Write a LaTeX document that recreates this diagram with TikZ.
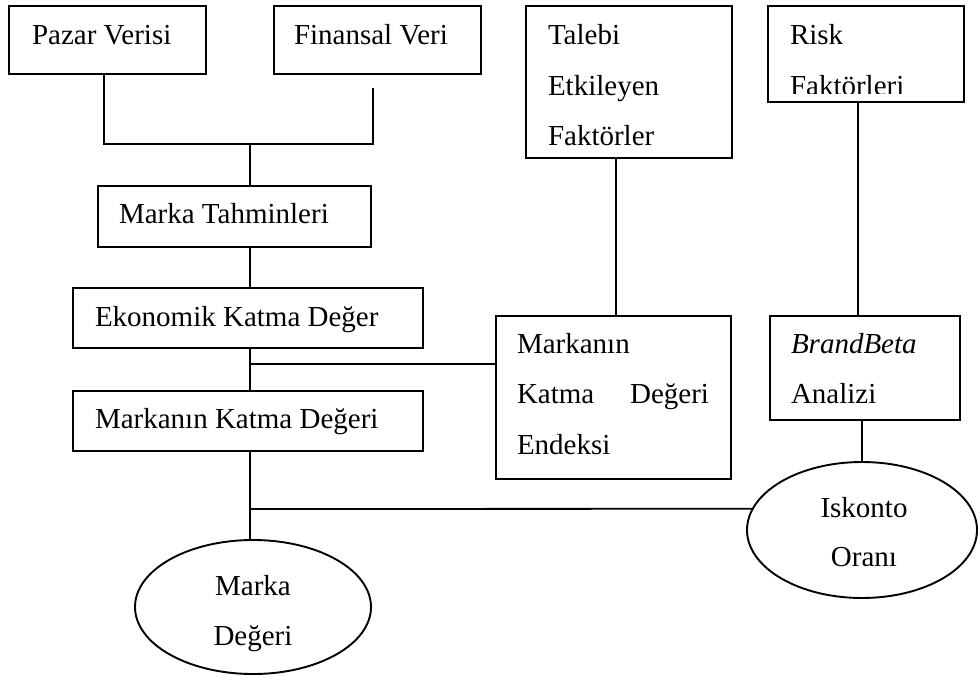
\documentclass[tikz,border=0pt]{standalone}
\usepackage{fontspec}
\setmainfont{Liberation Serif}
\usetikzlibrary{shapes.geometric}

\tikzset{
  box/.style={draw, rectangle, line width=1.9pt, inner sep=0pt, outer sep=0pt},
  oval/.style={draw, ellipse, line width=1.9pt, inner sep=0pt, outer sep=0pt},
  link/.style={line width=1.8pt},
  txt/.style={inner sep=0pt, outer sep=0pt, anchor=base west},
  ctxt/.style={inner sep=0pt, outer sep=0pt, anchor=base},
}

\begin{document}
\begin{tikzpicture}[x=1pt, y=-1pt, font=\fontsize{29}{50}\selectfont]
\useasboundingbox (0,0) rectangle (979,675);

% boxes
\node[box, minimum width=197pt, minimum height=68pt]  (pv)   at (107.5,40)  {};
\node[box, minimum width=207pt, minimum height=68pt]  (fv)   at (377.5,40)  {};
\node[box, minimum width=206pt, minimum height=152pt] (tef)  at (629,82)    {};
\node[box, minimum width=196pt, minimum height=96pt]  (rf)   at (866,54)    {};
\node[box, minimum width=273pt, minimum height=61pt]  (mt)   at (234.5,216.5) {};
\node[box, minimum width=350pt, minimum height=60pt]  (ekv)  at (248,318)   {};
\node[box, minimum width=350pt, minimum height=60pt]  (mkd)  at (248,421)   {};
\node[box, minimum width=235pt, minimum height=163pt] (mkde) at (613.5,397.5) {};
\node[box, minimum width=190pt, minimum height=104pt] (bb)   at (865,368)   {};

% ellipses
\node[oval, minimum width=236pt, minimum height=134pt] (mv)  at (253,607) {};
\node[oval, minimum width=230pt, minimum height=136pt] (isk) at (862,530) {};

% labels
\node[txt] at (32,44)  {Pazar Verisi};
\node[txt] at (294,44) {Finansal Veri};
\node[txt] at (548,44) {Talebi};
\node[txt] at (548,95) {Etkileyen};
\node[txt] at (548,145) {Faktörler};
\node[txt] at (790,44) {Risk};
\begin{scope}
  \clip (770,60) rectangle (962,93);
  \node[txt] at (790,95.5) {Faktörleri};
\end{scope}
\node[txt] at (119,223) {Marka Tahminleri};
\node[txt] at (95,326)  {Ekonomik Katma Değer};
\node[txt] at (95,428)  {Markanın Katma Değeri};
\node[txt] at (517,353) {Markanın};
\node[txt] at (517,403) {\makebox[192pt][l]{Katma\hfill Değeri}};
\node[txt] at (517,454) {Endeksi};
\node[txt] at (791,353) {\textit{BrandBeta}};
\node[txt] at (791,403) {Analizi};
\node[ctxt] at (253,595) {Marka};
\node[ctxt] at (253,645) {Değeri};
\node[ctxt] at (864,517) {Iskonto};
\node[ctxt] at (864,566) {Oranı};

% junction points
\coordinate (j1) at (250,144);
\coordinate (j2) at (250,364);
\coordinate (j3) at (250,509);
\coordinate (fvend) at ([xshift=-4.5pt,yshift=-14pt]fv.south);

% connectors
\draw[link] ([xshift=-3.5pt]pv.south) |- (fvend |- j1) -- (fvend);
\draw[link] (j1) -- (j1 |- mt.north);
\draw[link] (j1 |- mt.south) -- (j1 |- ekv.north);
\draw[link] (j1 |- ekv.south) -- (j1 |- mkd.north);
\draw[link] (j2) -- (j2 -| mkde.west);
\draw[link] (j1 |- mkd.south) -- (j1 |- mv.north);
\draw[link] (j3) -- (isk.169);
\draw[link] ([xshift=-13pt]tef.south) -- ([xshift=-13pt]tef.south |- mkde.north);
\draw[link] ([xshift=-8pt]rf.south) -- ([xshift=-8pt]rf.south |- bb.north);
\draw[link] (isk.north) -- (isk.north |- bb.south);
\end{tikzpicture}
\end{document}
